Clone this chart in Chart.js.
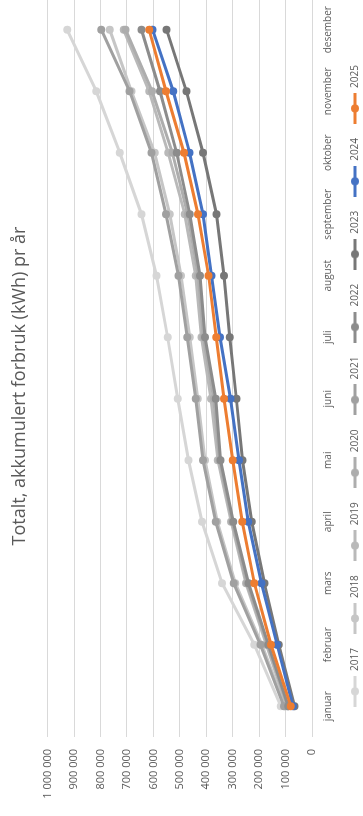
<!DOCTYPE html>
<html lang="no">
<head>
<meta charset="utf-8">
<title>Totalt, akkumulert forbruk (kWh) pr år</title>
<script src="https://cdn.jsdelivr.net/npm/chart.js@4/dist/chart.umd.min.js"></script>
<style>
  html, body { margin: 0; padding: 0; background: #fff; }
  body { width: 363px; height: 816px; overflow: hidden; position: relative; }
  /* the chart is laid out landscape and turned a quarter turn counter-clockwise */
  #wrap {
    position: absolute; left: 0; top: 0;
    width: 860px; height: 370px;
    transform-origin: 0 0;
    transform: translate(0px, 816px) rotate(-90deg);
  }
  canvas { display: block; }
</style>
</head>
<body>
<div id="wrap"><canvas id="chart" width="860" height="370"></canvas></div>
<script>
// Months on the category axis
const months = ['januar', 'februar', 'mars', 'april', 'mai', 'juni', 'juli', 'august', 'september', 'oktober', 'november', 'desember'];

// Accumulated consumption per year (kWh), month by month
const kwh2017 = [118000, 218000, 340000, 416000, 467000, 508000, 546000, 588000, 645000, 727000, 816000, 926000];
const kwh2018 = [102000, 190000, 290000, 358000, 405000, 432000, 462000, 495000, 538000, 595000, 683000, 765000];
const kwh2019 = [95000, 172000, 250000, 306000, 356000, 382000, 418000, 440000, 481000, 544000, 616000, 712000];
const kwh2020 = [92000, 168000, 246000, 302000, 350000, 372000, 410000, 430000, 470000, 528000, 605000, 705000];
const kwh2021 = [106000, 195000, 296000, 364000, 412000, 440000, 472000, 505000, 552000, 607000, 690000, 797000];
const kwh2022 = [90000, 165000, 240000, 298000, 346000, 364000, 405000, 424000, 462000, 512000, 575000, 645000];
const kwh2023 = [66000, 126000, 180000, 228000, 263000, 286000, 311000, 333000, 361000, 412000, 475000, 550000];
const kwh2024 = [72000, 132000, 191000, 241000, 276000, 308000, 348000, 380000, 412000, 463000, 525000, 603000];
const kwh2025 = [80000, 155000, 218000, 264000, 300000, 333000, 362000, 391000, 431000, 484000, 552000, 616000];

const years = ['2017', '2018', '2019', '2020', '2021', '2022', '2023', '2024', '2025'];
const series = [kwh2017, kwh2018, kwh2019, kwh2020, kwh2021, kwh2022, kwh2023, kwh2024, kwh2025];
const colors = ['#d6d6d6', '#c6c6c6', '#b9b9b9', '#adadad', '#a0a0a0', '#8c8c8c', '#777777', '#4472c4', '#ed7d31'];

const textColor = '#595959';
const fontFamily = '"Open Sans", "DejaVu Sans", sans-serif';

// Small line-with-dot swatch used as the legend symbol
function swatch(color) {
  const c = document.createElement('canvas');
  c.width = 31; c.height = 10;
  const g = c.getContext('2d');
  g.strokeStyle = color; g.lineWidth = 3;
  g.beginPath(); g.moveTo(0, 5); g.lineTo(31, 5); g.stroke();
  g.fillStyle = color;
  g.beginPath(); g.arc(15.5, 5, 4, 0, Math.PI * 2); g.fill();
  return c;
}

function spaced(n) {
  return String(n).replace(/\B(?=(\d{3})+(?!\d))/g, '\u00a0');
}

const datasets = years.map((y, i) => ({
  label: y,
  data: series[i],
  borderColor: colors[i],
  backgroundColor: colors[i],
  borderWidth: 3,
  pointRadius: 4,
  pointHoverRadius: 4,
  pointBorderWidth: 0,
  tension: 0,
  order: years.length - 1 - i   // later years drawn on top
}));

new Chart(document.getElementById('chart'), {
  type: 'line',
  data: { labels: months, datasets },
  options: {
    responsive: false,
    animation: false,
    devicePixelRatio: 1,
    layout: { padding: 0 },
    plugins: {
      tooltip: { enabled: false },
      title: {
        display: true,
        text: 'Totalt, akkumulert forbruk (kWh) pr år',
        color: textColor,
        font: { family: fontFamily, size: 18, weight: 'normal' },
        padding: { top: 9, bottom: 17 }
      },
      legend: {
        position: 'bottom',
        labels: {
          color: textColor,
          font: { family: fontFamily, size: 10 },
          usePointStyle: true,
          pointStyleWidth: 31,
          boxHeight: 10,
          padding: 14,
          sort: (a, b) => a.datasetIndex - b.datasetIndex,
          generateLabels(chart) {
            const items = Chart.defaults.plugins.legend.labels.generateLabels(chart);
            items.forEach(it => { it.pointStyle = swatch(colors[it.datasetIndex]); });
            return items;
          }
        }
      }
    },
    scales: {
      x: {
        type: 'category',
        offset: true,
        grid: { display: false, drawTicks: false },
        border: { display: false },
        ticks: {
          color: textColor,
          font: { family: fontFamily, size: 10 },
          padding: 10,
          maxRotation: 0,
          autoSkip: false
        },
        afterFit(scale) { scale.height = 24; }
      },
      y: {
        min: 0,
        max: 1000000,
        grid: { color: '#d9d9d9', lineWidth: 1, drawTicks: false },
        border: { display: false },
        ticks: {
          stepSize: 100000,
          color: textColor,
          font: { family: fontFamily, size: 11 },
          padding: 12,
          callback: v => spaced(v)
        },
        afterFit(scale) { scale.width = 79; }
      },
      // empty right-hand margin of the plot area
      yRight: {
        position: 'right',
        display: true,
        grid: { display: false, drawTicks: false },
        border: { display: false },
        ticks: { display: false },
        afterFit(scale) { scale.width = 43; }
      }
    }
  }
});
</script>
</body>
</html>
